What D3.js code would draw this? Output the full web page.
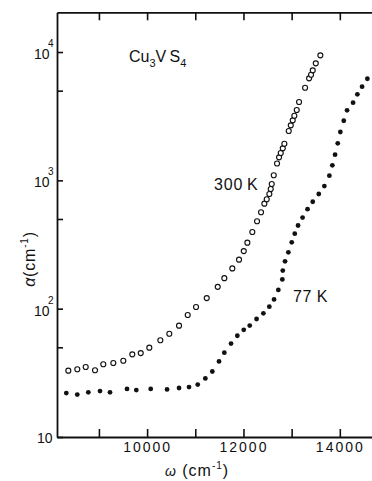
<!DOCTYPE html>
<html><head><meta charset="utf-8">
<script src="https://cdn.jsdelivr.net/npm/d3@7"></script>
<style>body{margin:0;background:#fff;overflow:hidden}</style>
</head><body><svg id="c" width="372" height="481"></svg>
<script>
// 300 K (open circles)
const omega300 = [8365, 8551, 8726, 8919, 9091, 9299, 9506, 9693, 9868, 10046, 10275, 10461, 10663, 10843, 11016, 11238, 11466, 11603, 11769, 11908, 12006, 12081, 12184, 12282, 12365, 12434, 12483, 12537, 12566, 12587, 12629, 12697, 12739, 12774, 12816, 12849, 12940, 12982, 13023, 13056, 13106, 13154, 13279, 13362, 13403, 13438, 13501, 13596];
const alpha300 = [32.9, 33.7, 35.1, 33.1, 36.9, 37.7, 39.3, 44.1, 45.1, 49.7, 56.7, 63.8, 73.7, 89.3, 103, 121, 148, 173, 206, 241, 281, 327, 396, 480, 564, 658, 712, 783, 856, 936, 1095, 1353, 1512, 1633, 1777, 1930, 2424, 2685, 2936, 3189, 3533, 4078, 5271, 6239, 6657, 7202, 8166, 9426];
// 77 K (filled dots)
const omega77 = [8323, 8551, 8780, 9023, 9230, 9583, 9776, 10075, 10414, 10663, 10870, 11051, 11209, 11354, 11493, 11603, 11742, 11873, 12006, 12130, 12272, 12413, 12537, 12635, 12724, 12807, 12816, 12863, 12932, 13002, 13065, 13133, 13227, 13330, 13438, 13563, 13679, 13783, 13845, 13901, 13957, 14011, 14082, 14150, 14275, 14364, 14462, 14572];
const alpha77 = [22.0, 21.4, 22.3, 22.8, 22.3, 23.7, 23.2, 23.7, 23.5, 24.1, 24.5, 25.6, 28.6, 32.4, 38.8, 45.4, 53.5, 61.5, 68.4, 73.9, 83.1, 92.0, 103.6, 118, 140, 169, 198, 234, 275, 329, 384, 445, 513, 596, 681, 783, 903, 1087, 1310, 1584, 1944, 2381, 2915, 3514, 4027, 4684, 5366, 6194];

const xTicks = [9000, 10000, 11000, 12000, 13000, 14000];
const xTickLabels = ["", "10000", "", "12000", "", "14000"];
const yTicks = [10, 50, 100, 500, 1000, 5000, 10000];
const yTickExps = ["", null, "2", null, "3", null, "4"];

const FONT = "'Liberation Sans', Arial, Helvetica, sans-serif";
const INK = "#111";

const svg = d3.select("#c");
const x = d3.scaleLinear().domain([8130, 15000]).range([57, 388]);
const y = d3.scaleLog().domain([10, 20400]).range([437, 12.3]);

function styleAxis(g) {
  g.selectAll("path.domain").attr("stroke", INK).attr("stroke-width", 1.8);
  g.selectAll(".tick line").attr("stroke", INK).attr("stroke-width", 1.6);
}

// bottom axis
const gb = svg.append("g").attr("transform", "translate(0,437)")
  .call(d3.axisBottom(x).tickValues(xTicks).tickSize(-8).tickSizeOuter(0).tickPadding(5)
    .tickFormat((d, i) => xTickLabels[i]));
styleAxis(gb);
gb.selectAll(".tick text").attr("font-family", FONT).attr("font-size", 14)
  .attr("letter-spacing", 2).attr("fill", INK);

// top axis
const gt = svg.append("g").attr("transform", "translate(0,12.3)")
  .call(d3.axisTop(x).tickValues(xTicks).tickSize(-8).tickSizeOuter(0).tickFormat(""));
styleAxis(gt);

// left axis
const gl = svg.append("g").attr("transform", "translate(57,0)")
  .call(d3.axisLeft(y).tickValues(yTicks).tickSize(-6).tickSizeOuter(0).tickFormat(""));
styleAxis(gl);
gl.selectAll(".tick").each(function(d, i) {
  const e = yTickExps[i];
  if (e === null) return;
  const t = d3.select(this).append("text")
    .attr("font-family", FONT).attr("font-size", 14).attr("fill", INK)
    .attr("text-anchor", "start");
  if (e === "") {
    t.attr("x", -20).attr("y", 5).text("10");
  } else {
    t.attr("x", -23).attr("y", 6.5);
    t.append("tspan").text("10");
    t.append("tspan").attr("font-size", 10).attr("dx", -1.5).attr("dy", -12).text(e);
  }
});

// data
svg.append("g").selectAll("circle").data(omega300.map((w, i) => [w, alpha300[i]]))
  .join("circle")
  .attr("cx", d => x(d[0])).attr("cy", d => y(d[1])).attr("r", 2.5)
  .attr("fill", "#fff").attr("stroke", INK).attr("stroke-width", 1.15);

svg.append("g").selectAll("circle").data(omega77.map((w, i) => [w, alpha77[i]]))
  .join("circle")
  .attr("cx", d => x(d[0])).attr("cy", d => y(d[1])).attr("r", 2.4)
  .attr("fill", INK);

// annotations
const title = svg.append("text").attr("x", 129).attr("y", 62)
  .attr("font-family", FONT).attr("font-size", 16).attr("fill", INK);
title.append("tspan").text("Cu");
title.append("tspan").attr("font-size", 11).attr("dy", 5).text("3");
title.append("tspan").attr("dy", -5).text("V\u2009S");
title.append("tspan").attr("font-size", 11).attr("dy", 5).text("4");

svg.append("text").attr("x", 214).attr("y", 190)
  .attr("font-family", FONT).attr("font-size", 16).attr("letter-spacing", 0.8)
  .attr("fill", INK).text("300\u2009K");
svg.append("text").attr("x", 293).attr("y", 302)
  .attr("font-family", FONT).attr("font-size", 16).attr("letter-spacing", 0.5)
  .attr("fill", INK).text("77 K");

// x title
const xt = svg.append("text").attr("x", 197).attr("y", 476).attr("text-anchor", "middle")
  .attr("font-family", FONT).attr("font-size", 16).attr("fill", INK).attr("letter-spacing", 1);
xt.append("tspan").attr("font-style", "italic").attr("font-size", 14).text("\u03c9");
xt.append("tspan").text(" (cm");
xt.append("tspan").attr("font-size", 10).attr("dy", -7).text("-1");
xt.append("tspan").attr("dy", 7).text(")");

// y title
const yt = svg.append("text").attr("transform", "translate(35,259) rotate(-90)")
  .attr("text-anchor", "middle")
  .attr("font-family", FONT).attr("font-size", 16).attr("fill", INK).attr("letter-spacing", 0.8);
yt.append("tspan").attr("font-style", "italic").text("\u03b1");
yt.append("tspan").text("(cm");
yt.append("tspan").attr("font-size", 10).attr("dy", -7).text("-1");
yt.append("tspan").attr("dy", 7).text(")");
</script>
</body></html>
